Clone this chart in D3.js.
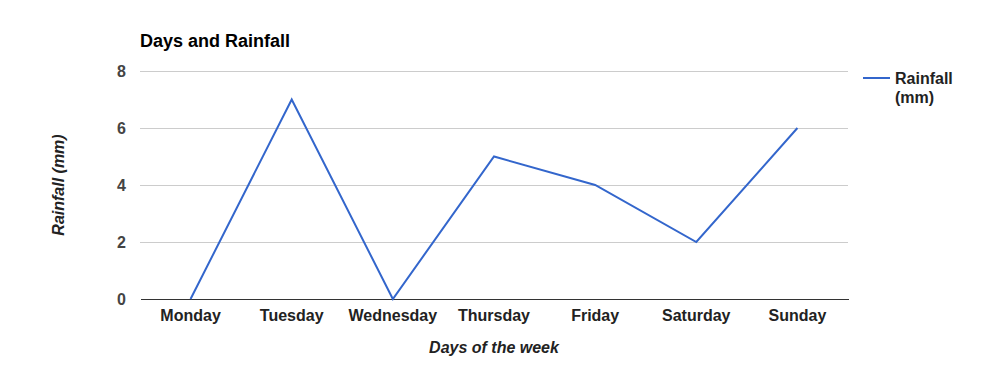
<!DOCTYPE html>
<html>
<head>
<meta charset="utf-8">
<script src="https://cdn.jsdelivr.net/npm/d3@7"></script>
<style>
  body { margin: 0; background: #fff; }
  svg text { font-family: "Liberation Sans", Arial, sans-serif; font-weight: bold; }
</style>
</head>
<body>
<div id="chart"></div>
<script>
var days = ['Monday', 'Tuesday', 'Wednesday', 'Thursday', 'Friday', 'Saturday', 'Sunday'];
var rainfall = [0, 7, 0, 5, 4, 2, 6];
var yTicks = [0, 2, 4, 6, 8];

var width = 987, height = 371;
var plotLeft = 140, plotRight = 848, plotTop = 71, plotBottom = 299;

var svg = d3.select('#chart').append('svg')
    .attr('width', width)
    .attr('height', height);

var x = d3.scaleBand().domain(days).range([plotLeft, plotRight]);
var y = d3.scaleLinear().domain([0, 8]).range([plotBottom, plotTop]);

// gridlines
svg.append('g')
    .selectAll('line')
    .data(yTicks.slice(1))
    .enter().append('line')
    .attr('x1', plotLeft).attr('x2', plotRight)
    .attr('y1', function (d) { return y(d); })
    .attr('y2', function (d) { return y(d); })
    .attr('stroke', '#cccccc')
    .attr('stroke-width', 1)
    .attr('shape-rendering', 'crispEdges');

// y tick labels
var yAxis = svg.append('g')
    .attr('transform', 'translate(' + plotLeft + ',0)')
    .call(d3.axisLeft(y).tickValues(yTicks).tickSize(0).tickPadding(14));
yAxis.select('.domain').remove();
yAxis.selectAll('text')
    .attr('font-size', 16)
    .attr('fill', '#444')
    .attr('font-family', '"Liberation Sans", Arial, sans-serif');

// x axis
var xAxis = svg.append('g')
    .attr('transform', 'translate(0,' + plotBottom + ')')
    .call(d3.axisBottom(x).tickSize(0).tickPadding(11));
xAxis.select('.domain')
    .attr('stroke', '#333')
    .attr('stroke-width', 1)
    .attr('shape-rendering', 'crispEdges');
xAxis.selectAll('text')
    .attr('font-size', 16)
    .attr('fill', '#222')
    .attr('font-family', '"Liberation Sans", Arial, sans-serif');

// line
var line = d3.line()
    .x(function (d, i) { return x(days[i]) + x.bandwidth() / 2; })
    .y(function (d) { return y(d); });

svg.append('path')
    .datum(rainfall)
    .attr('d', line)
    .attr('fill', 'none')
    .attr('stroke', '#3366cc')
    .attr('stroke-width', 2);

// title
svg.append('text')
    .attr('x', plotLeft)
    .attr('y', 47)
    .attr('font-size', 18)
    .attr('fill', '#000')
    .text('Days and Rainfall');

// axis titles
svg.append('text')
    .attr('x', (plotLeft + plotRight) / 2)
    .attr('y', 353)
    .attr('text-anchor', 'middle')
    .attr('font-size', 16)
    .attr('font-style', 'italic')
    .attr('fill', '#222')
    .text('Days of the week');

svg.append('text')
    .attr('transform', 'translate(64,' + ((plotTop + plotBottom) / 2) + ') rotate(-90)')
    .attr('text-anchor', 'middle')
    .attr('font-size', 16)
    .attr('font-style', 'italic')
    .attr('fill', '#222')
    .text('Rainfall (mm)');

// legend
var legend = svg.append('g').attr('transform', 'translate(863,78)');
legend.append('line')
    .attr('x1', 0).attr('x2', 27)
    .attr('y1', 0).attr('y2', 0)
    .attr('stroke', '#3366cc')
    .attr('stroke-width', 2);
legend.append('text')
    .attr('x', 32).attr('y', 6)
    .attr('font-size', 16)
    .attr('fill', '#222')
    .text('Rainfall');
legend.append('text')
    .attr('x', 32).attr('y', 25)
    .attr('font-size', 16)
    .attr('fill', '#222')
    .text('(mm)');
</script>
</body>
</html>
